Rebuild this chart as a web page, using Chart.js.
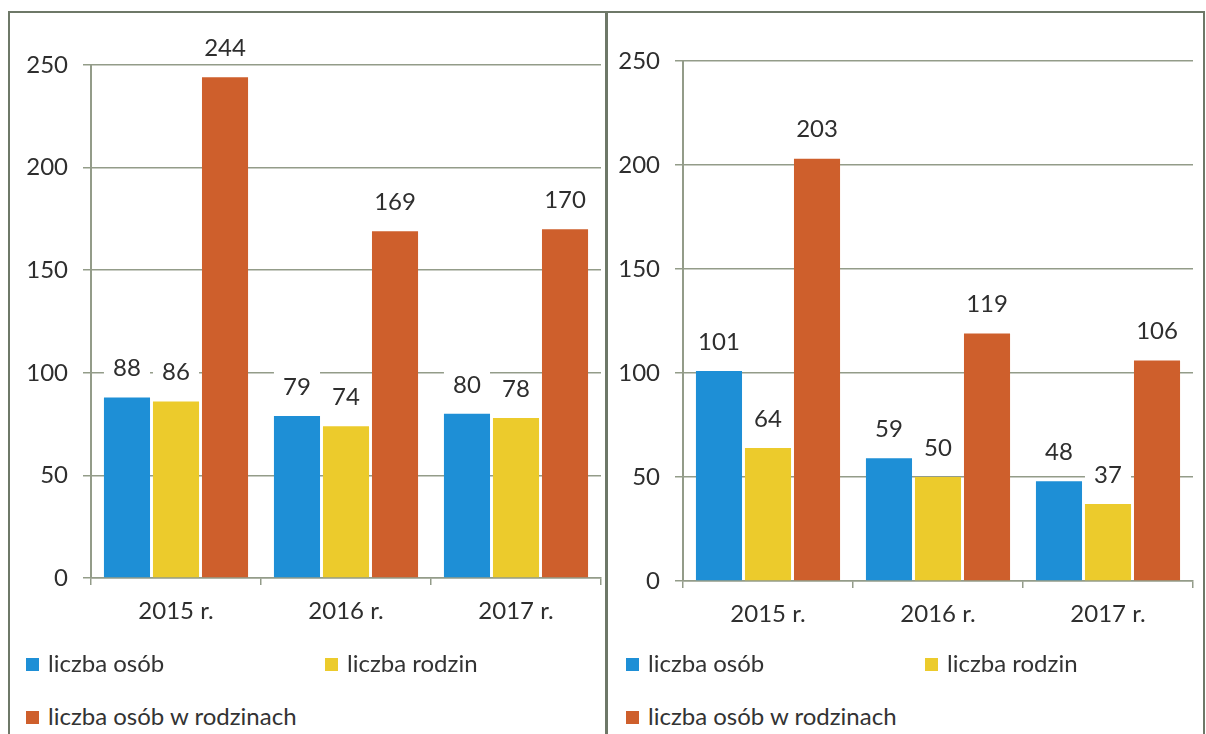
<!DOCTYPE html>
<html lang="pl">
<head>
<meta charset="utf-8">
<title>Liczba osób i rodzin 2015–2017</title>
<script src="https://cdn.jsdelivr.net/npm/chart.js@4.4.1/dist/chart.umd.min.js"></script>
<style>
  html, body { margin: 0; padding: 0; background: #fff; }
  #page { position: relative; width: 1206px; height: 734px; overflow: hidden; background: #fff; font-family: Lato, 'Open Sans', sans-serif; color: #333; }
  .frame { position: absolute; background: #6e7868; }
  canvas { position: absolute; }
  .legend-item { position: absolute; font-size: 24px; line-height: 26px; white-space: nowrap; }
  .legend-box { display: inline-block; width: 13px; height: 13px; margin-right: 9px; vertical-align: 1px; }
</style>
</head>
<body>
<div id="page">
  <div class="frame" style="left:8px; top:11px; width:1197px; height:2px;"></div>
  <div class="frame" style="left:8px; top:11px; width:2px; height:723px;"></div>
  <div class="frame" style="left:605px; top:11px; width:3px; height:723px;"></div>
  <div class="frame" style="left:1203px; top:11px; width:2px; height:723px;"></div>

  <canvas id="leftChart"  style="left:10px;  top:14px;" width="592" height="640"></canvas>
  <canvas id="rightChart" style="left:610px; top:14px;" width="590" height="640"></canvas>

  <div id="leftLegend"></div>
  <div id="rightLegend"></div>
</div>

<script>
// ─── Data ────────────────────────────────────────────────────────────────────

const categories  = ['2015 r.', '2016 r.', '2017 r.'];
const seriesNames = ['liczba osób', 'liczba rodzin', 'liczba osób w rodzinach'];
const yTicks      = [0, 50, 100, 150, 200, 250];

// lewy wykres
const leftOsoby       = [88, 79, 80];
const leftRodziny     = [86, 74, 78];
const leftWRodzinach  = [244, 169, 170];

// prawy wykres
const rightOsoby      = [101, 59, 48];
const rightRodziny    = [64, 50, 37];
const rightWRodzinach = [203, 119, 106];

const palette   = ['#1E8FD6', '#ECCB2C', '#CE5F2C'];
const gridColor = '#939c89';
const textColor = '#2e2e2e';
const FONT      = "Lato, 'Open Sans', sans-serif";
const FONT_SIZE = 24;

// ─── Labels above bars (white box, like Excel) ───────────────────────────────

const barLabels = {
  id: 'barLabels',
  afterDatasetsDraw(chart) {
    const { ctx } = chart;
    ctx.save();
    ctx.font = `${FONT_SIZE}px ${FONT}`;
    ctx.textAlign = 'center';
    ctx.textBaseline = 'middle';
    chart.data.datasets.forEach((ds, i) => {
      chart.getDatasetMeta(i).data.forEach((bar, j) => {
        const cy = bar.y - 29;
        ctx.fillStyle = '#ffffff';
        ctx.fillRect(bar.x - bar.width / 2, cy - 15, bar.width, 30);
        ctx.fillStyle = textColor;
        ctx.fillText(String(ds.data[j]), bar.x, cy);
      });
    });
    ctx.restore();
  },
};

// ─── Chart builder ───────────────────────────────────────────────────────────

function buildChart(id, values, box) {
  const datasets = values.map((v, i) => ({
    label: seriesNames[i],
    data: v,
    backgroundColor: palette[i],
    borderWidth: 0,
    categoryPercentage: 0.865,
    barPercentage: 0.94,
  }));

  return new Chart(document.getElementById(id), {
    type: 'bar',
    data: { labels: categories, datasets },
    plugins: [barLabels],
    options: {
      responsive: false,
      animation: false,
      layout: { padding: { top: box.top, right: box.right, bottom: 0, left: 0 } },
      plugins: { legend: { display: false }, tooltip: { enabled: false } },
      scales: {
        x: {
          afterFit: (s) => { s.height = box.xHeight; },
          grid:   { drawOnChartArea: false, drawTicks: true, tickLength: 7, color: gridColor, lineWidth: 1.5 },
          border: { display: true, color: gridColor, width: 1.5 },
          ticks:  { color: textColor, font: { family: FONT, size: FONT_SIZE }, padding: 12 },
        },
        y: {
          min: 0,
          max: 250,
          afterFit: (s) => { s.width = box.yWidth; },
          afterBuildTicks: (s) => { s.ticks = yTicks.map(v => ({ value: v })); },
          grid:   { color: gridColor, lineWidth: 1.5, tickLength: 8 },
          border: { display: true, color: gridColor, width: 2 },
          ticks:  { color: textColor, font: { family: FONT, size: FONT_SIZE }, padding: 15 },
        },
      },
    },
  });
}

function buildLegend(id, left) {
  const pos = [
    { x: left + 16,  y: 650 },
    { x: left + 315, y: 650 },
    { x: left + 16,  y: 703 },
  ];
  document.getElementById(id).innerHTML = seriesNames.map((name, i) => `
    <div class="legend-item" style="left:${pos[i].x}px; top:${pos[i].y}px;">
      <span class="legend-box" style="background:${palette[i]};"></span>${name}
    </div>
  `).join('');
}

// ─── Init ────────────────────────────────────────────────────────────────────

buildChart('leftChart',  [leftOsoby, leftRodziny, leftWRodzinach],
  { top: 51, right: 1, yWidth: 81, xHeight: 76 });
buildChart('rightChart', [rightOsoby, rightRodziny, rightWRodzinach],
  { top: 47, right: 7, yWidth: 73, xHeight: 73 });

buildLegend('leftLegend', 10);
buildLegend('rightLegend', 610);
</script>
</body>
</html>
